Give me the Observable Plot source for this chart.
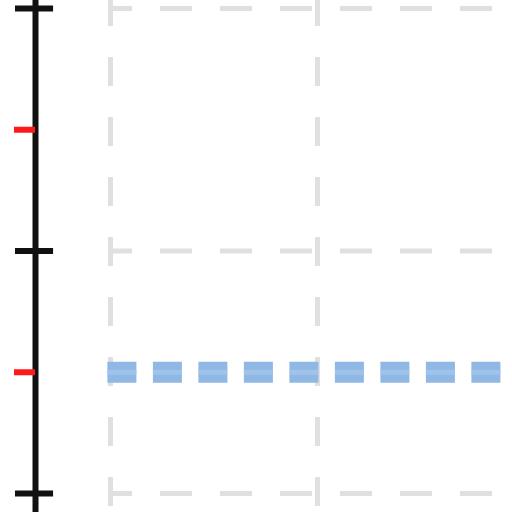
<!DOCTYPE html>
<html>
<head>
<meta charset="utf-8">
<script src="https://cdn.jsdelivr.net/npm/d3@7"></script>
<script src="https://cdn.jsdelivr.net/npm/@observablehq/plot@0.6"></script>
<style>
  html, body { margin: 0; padding: 0; background: #fff; }
  #chart svg { display: block; }
</style>
</head>
<body>
<div id="chart"></div>
<script>
// Data
const xGridTicks = [0, 1, 2];
const yMajorTicks = [0, 1, 2];
const yMinorTicks = [0.5, 1.5];
const seriesX = [-0.015, 1.9];
const seriesY = [0.5, 0.5];

const series = seriesX.map((x, i) => ({x, y: seriesY[i]}));
const axisPos = -0.3623;

const chart = Plot.plot({
  width: 512,
  height: 512,
  margin: 0,
  x: {domain: [-0.5314, 1.942], axis: null},
  y: {domain: [-0.07835, 2.03299], axis: null},
  marks: [
    // vertical dashed gridlines
    Plot.ruleX(xGridTicks, {stroke: "#e0e0e0", strokeWidth: 5, strokeDasharray: "29,31", strokeDashoffset: 3}),
    // horizontal dashed gridlines
    Plot.ruleY(yMajorTicks, {x1: 0, x2: 1.942, stroke: "#e0e0e0", strokeWidth: 5, strokeDasharray: "32,28", strokeDashoffset: 10}),
    // series line
    Plot.line(series, {x: "x", y: "y", stroke: "#8fb8e4", strokeWidth: 21, strokeLinecap: "butt", strokeDasharray: "29,16.5"}),
    Plot.line(series, {x: "x", y: "y", stroke: "#a6c7eb", strokeWidth: 5, strokeLinecap: "butt", strokeDasharray: "29,16.5", strokeOpacity: 0.7}),
    // axis line
    Plot.ruleX([axisPos], {stroke: "#111", strokeWidth: 6}),
    // major ticks (both sides)
    Plot.ruleY(yMajorTicks, {x1: -0.459, x2: -0.275, stroke: "#111", strokeWidth: 6}),
    // minor ticks (left side, red)
    Plot.ruleY(yMinorTicks, {x1: -0.464, x2: axisPos, stroke: "#ff1a1a", strokeWidth: 6})
  ]
});
document.getElementById("chart").appendChild(chart);
</script>
</body>
</html>
